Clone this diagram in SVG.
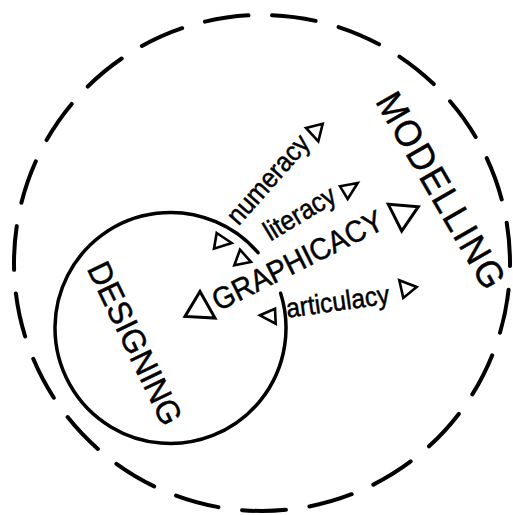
<svg xmlns="http://www.w3.org/2000/svg" width="513" height="515" viewBox="0 0 513 515">
<style>
  .lbl { font-family: "Liberation Sans", Arial, sans-serif; fill: #000; stroke: #000; stroke-width: 0.45; }
  .tri { fill: none; stroke: #000; stroke-width: 2.6; stroke-linejoin: miter; }
  .big { stroke-width: 3; }
</style>
<rect width="513" height="515" fill="#fff"/>
<g id="modelling">
  <circle cx="262" cy="263" r="248" fill="none" stroke="#000" stroke-width="4" stroke-linecap="round" stroke-dasharray="44 23.74" stroke-dashoffset="41"/>
  <text class="lbl" font-size="35" letter-spacing="1.8" transform="translate(374.8 101.2) rotate(60) scale(1 1.06)">MODELLING</text>
</g>
<g id="designing">
  <path d="M 280.65 293.27 A 115.5 115.5 0 1 1 258.06 252.68" fill="none" stroke="#000" stroke-width="3.5" stroke-linecap="round"/>
  <text class="lbl" font-size="31.5" transform="translate(86.6 268.6) rotate(64.3) scale(1 1.04)">DESIGNING</text>
</g>
<g id="graphicacy">
  <polygon class="tri big" points="200,291.5 185,316.5 215,318"/>
  <text class="lbl" font-size="28.3" transform="translate(218.5 311.5) rotate(-26.5) scale(1 1.08)">GRAPHICACY</text>
  <polygon class="tri big" points="388.3,204.3 418.3,206.7 401.7,231"/>
</g>
<g id="numeracy">
  <polygon class="tri" points="216.7,233 231.7,243 214,248.7"/>
  <text class="lbl" font-size="25" transform="translate(238.5 226.5) rotate(-48.5) scale(1 1.1)">numeracy</text>
  <polygon class="tri" points="306,128 322.7,123.7 318.3,141.3"/>
</g>
<g id="literacy">
  <polygon class="tri" points="240,249.7 251,262 234.3,265.3"/>
  <text class="lbl" font-size="25" transform="translate(270.4 241.6) rotate(-31) scale(1 1.1)">literacy</text>
  <polygon class="tri" points="340,186.3 357.7,183 347.7,199"/>
</g>
<g id="articulacy">
  <polygon class="tri" points="260,315.3 275,308.7 275.7,323.7"/>
  <text class="lbl" font-size="24.6" transform="translate(287.5 317.8) rotate(-8) scale(1 1.1)">articulacy</text>
  <polygon class="tri" points="399.3,280.3 416.7,287 403.3,298"/>
</g>
<g id="connectors"></g>
</svg>
